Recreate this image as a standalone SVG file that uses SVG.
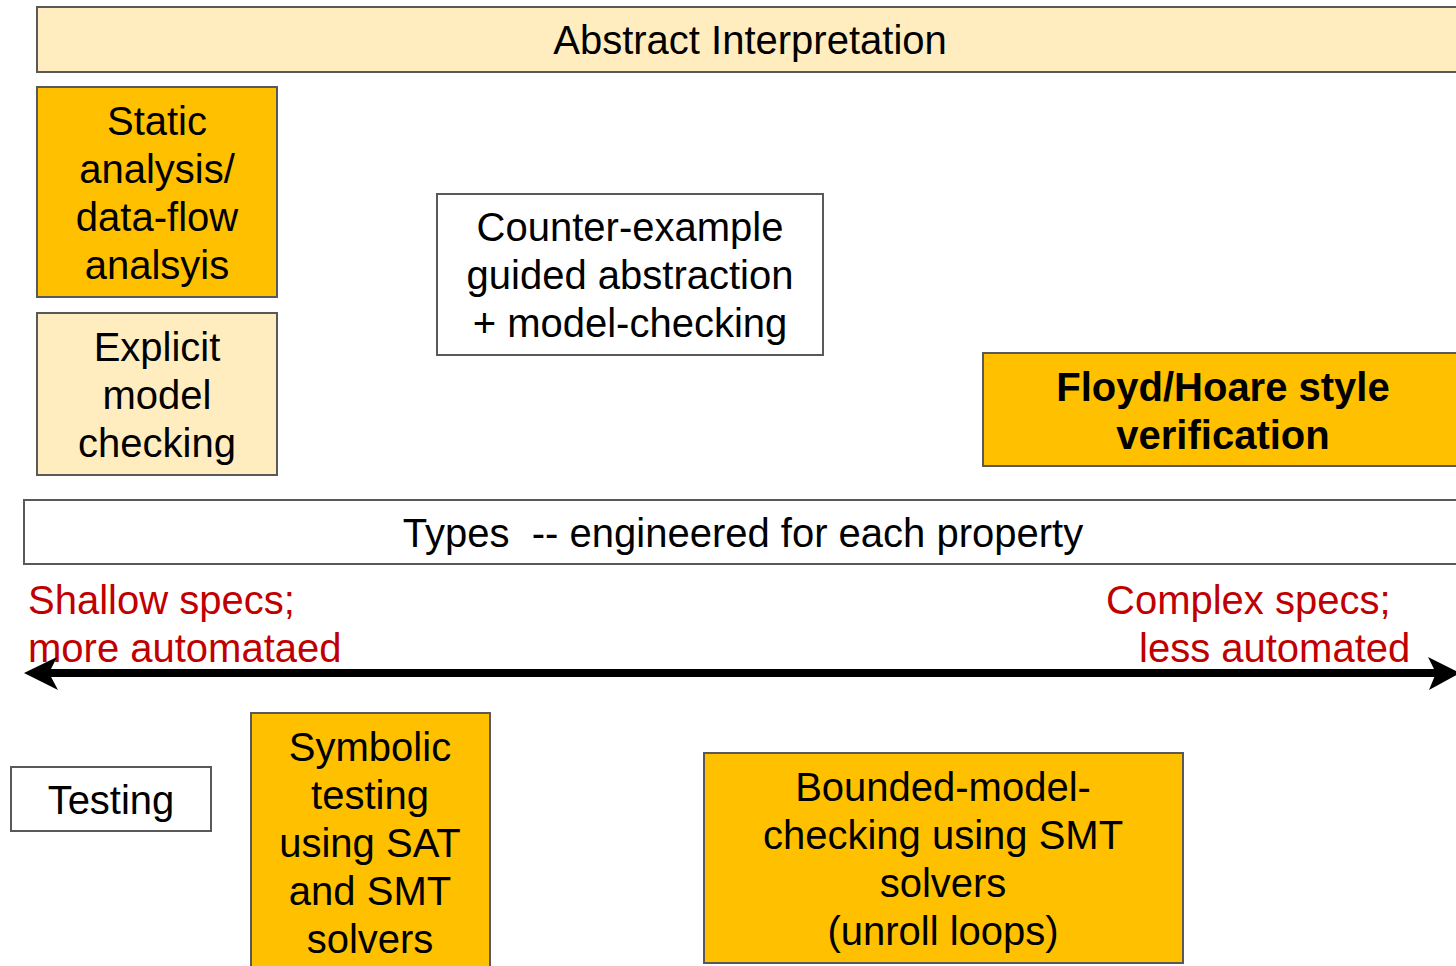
<svg xmlns="http://www.w3.org/2000/svg" width="1456" height="966" viewBox="0 0 1456 966">
<style>
.box{stroke:#595959;stroke-width:2}
.light{fill:#FFEDBF}
.orange{fill:#FFC000}
.white{fill:#FFFFFF}
text{font-family:"Liberation Sans",Arial,sans-serif;font-size:40px;fill:#000}
.c{text-anchor:middle}
.b{font-weight:bold}
.red{fill:#C00000}
.pre{white-space:pre}
</style>
<rect width="1456" height="966" fill="#FFFFFF"/>
<g id="abstract-interpretation">
<rect class="box light" x="37" y="7" width="1430" height="65"/>
<text class="c" x="750" y="54">Abstract Interpretation</text>
</g>
<g id="static-analysis">
<rect class="box orange" x="37" y="87" width="240" height="210"/>
<text class="c" x="157" y="135">Static</text>
<text class="c" x="157" y="183">analysis/</text>
<text class="c" x="157" y="231">data-flow</text>
<text class="c" x="157" y="279">analsyis</text>
</g>
<g id="explicit-model-checking">
<rect class="box light" x="37" y="313" width="240" height="162"/>
<text class="c" x="157" y="361">Explicit</text>
<text class="c" x="157" y="409">model</text>
<text class="c" x="157" y="457">checking</text>
</g>
<g id="cegar">
<rect class="box white" x="437" y="194" width="386" height="161"/>
<text class="c" x="630" y="241">Counter-example</text>
<text class="c" x="630" y="289">guided abstraction</text>
<text class="c" x="630" y="337">+ model-checking</text>
</g>
<g id="floyd-hoare">
<rect class="box orange" x="983" y="353" width="490" height="113"/>
<text class="c b" x="1223" y="401">Floyd/Hoare style</text>
<text class="c b" x="1223" y="449">verification</text>
</g>
<g id="types">
<rect class="box white" x="24" y="500" width="1450" height="64"/>
<text class="c pre" x="743" y="547" xml:space="preserve">Types  -- engineered for each property</text>
</g>
<g id="axis-labels">
<text class="red" x="28" y="614">Shallow specs;</text>
<text class="red" x="28" y="662">more automataed</text>
<text class="red" x="1106" y="614">Complex specs;</text>
<text class="red" x="1139" y="662">less automated</text>
</g>
<g id="connectors">
<line x1="48" y1="673" x2="1436" y2="673" stroke="#000" stroke-width="8"/>
<polygon points="24,673 57,657 49,673 58,690" fill="#000"/>
<polygon points="1460,673 1428,657 1436,673 1429,690" fill="#000"/>
</g>
<g id="testing">
<rect class="box white" x="11" y="767" width="200" height="64"/>
<text class="c" x="111" y="814">Testing</text>
</g>
<g id="symbolic-testing">
<rect class="box orange" x="251" y="713" width="239" height="265"/>
<text class="c" x="370" y="761">Symbolic</text>
<text class="c" x="370" y="809">testing</text>
<text class="c" x="370" y="857">using SAT</text>
<text class="c" x="370" y="905">and SMT</text>
<text class="c" x="370" y="953">solvers</text>
</g>
<g id="bounded-model-checking">
<rect class="box orange" x="704" y="753" width="479" height="210"/>
<text class="c" x="943" y="801">Bounded-model-</text>
<text class="c" x="943" y="849">checking using SMT</text>
<text class="c" x="943" y="897">solvers</text>
<text class="c" x="943" y="945">(unroll loops)</text>
</g>
</svg>
